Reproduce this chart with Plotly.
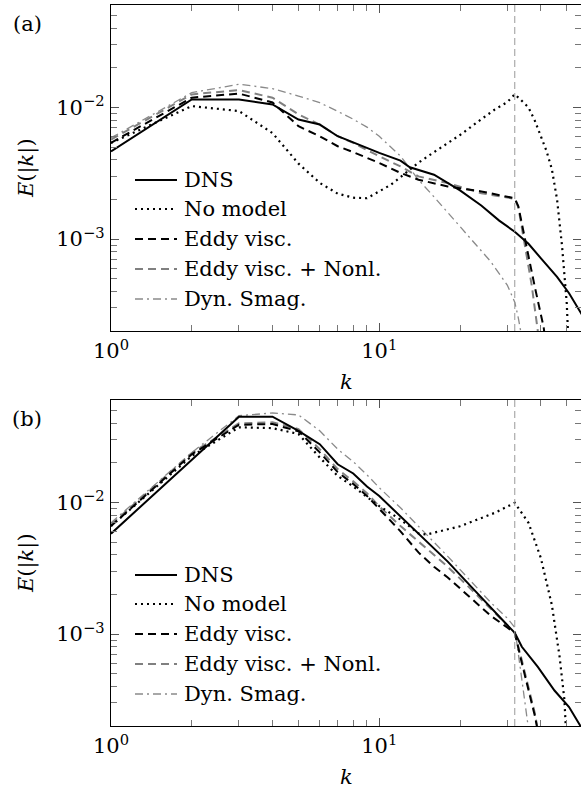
import math
import plotly.graph_objects as go

FONT = "DejaVu Serif"
FS = 21
GRAY = "#808080"

# ---------------- panel (a) ----------------
a_k_dns = [1, 2, 3, 4, 5, 6, 7, 8, 9, 10, 12, 13, 16, 20, 24, 28, 32, 36, 40, 46, 51, 56, 58]
a_E_dns = [4.63e-3, 1.15e-2, 1.15e-2, 1.054e-2, 8.09e-3, 7.41e-3, 6.04e-3, 5.41e-3, 4.95e-3, 4.51e-3,
           3.94e-3, 3.51e-3, 3.08e-3, 2.34e-3, 1.80e-3, 1.38e-3, 1.135e-3, 9.2e-4, 7.16e-4, 5.15e-4,
           3.87e-4, 2.87e-4, 2.5e-4]

a_k_nomodel = [1, 2, 3, 4, 5, 6, 7, 8, 9, 10, 11, 12, 13, 14, 16, 18, 20, 24, 27, 30, 32, 34, 36, 38,
               40, 42, 44, 46, 48, 50, 51]
a_E_nomodel = [5.37e-3, 1.023e-2, 9.38e-3, 6.38e-3, 3.74e-3, 2.67e-3, 2.21e-3, 2.06e-3, 2.04e-3, 2.29e-3,
               2.57e-3, 2.95e-3, 3.39e-3, 3.80e-3, 4.57e-3, 5.37e-3, 6.17e-3, 8.13e-3, 9.66e-3, 1.096e-2,
               1.259e-2, 1.122e-2, 1.0e-2, 7.94e-3, 6.03e-3, 4.68e-3, 3.39e-3, 2.0e-3, 8.9e-4, 3.24e-4,
               1.26e-4]

a_k_eddy = [1, 2, 3, 4, 5, 6, 7, 8, 10, 12, 14, 18, 24, 31, 32, 33, 35, 38, 41, 43]
a_E_eddy = [5.38e-3, 1.186e-2, 1.274e-2, 1.091e-2, 7.19e-3, 6.03e-3, 5.07e-3, 4.57e-3, 3.78e-3, 3.18e-3,
            2.82e-3, 2.51e-3, 2.30e-3, 2.05e-3, 2.04e-3, 1.77e-3, 9.8e-4, 4.33e-4, 2.14e-4, 1.0e-4]

a_k_nonl = [1, 2, 3, 4, 5, 6, 7, 8, 10, 12, 14, 18, 24, 31, 32, 33, 35, 37, 39, 40]
a_E_nonl = [5.70e-3, 1.256e-2, 1.355e-2, 1.186e-2, 8.85e-3, 7.41e-3, 6.04e-3, 5.37e-3, 4.25e-3, 3.56e-3,
            2.99e-3, 2.66e-3, 2.23e-3, 2.05e-3, 2.02e-3, 1.74e-3, 8.9e-4, 4.47e-4, 2.0e-4, 1.0e-4]

a_k_smag = [1, 2, 3, 4, 5, 6, 7, 8, 9, 10, 12, 14, 16, 18, 22, 26, 30, 32, 33, 34, 35]
a_E_smag = [5.87e-3, 1.294e-2, 1.50e-2, 1.39e-2, 1.22e-2, 1.086e-2, 9.33e-3, 8.13e-3, 7.08e-3, 6.03e-3,
            4.27e-3, 2.82e-3, 2.09e-3, 1.585e-3, 1.0e-3, 6.76e-4, 4.47e-4, 3.31e-4, 2.51e-4, 1.78e-4,
            1.0e-4]

# ---------------- panel (b) ----------------
b_k_dns = [1, 2, 3, 4, 5, 6, 7, 8, 9, 10, 12, 14, 15, 18, 22, 26, 30, 32, 34, 39, 45, 51, 56, 58]
b_E_dns = [5.79e-3, 2.10e-2, 4.48e-2, 4.48e-2, 3.50e-2, 2.77e-2, 1.95e-2, 1.66e-2, 1.32e-2, 1.117e-2,
           7.85e-3, 5.86e-3, 5.13e-3, 3.55e-3, 2.29e-3, 1.58e-3, 1.17e-3, 1.02e-3, 8.0e-4, 5.62e-4,
           3.72e-4, 2.79e-4, 2.0e-4, 1.8e-4]

b_k_nomodel = [1, 2, 3, 4, 5, 6, 7, 8, 9, 10, 12, 14, 15, 18, 20, 27, 32, 36, 40, 44, 47, 49, 50, 51]
b_E_nomodel = [6.61e-3, 2.25e-2, 3.72e-2, 3.67e-2, 3.31e-2, 2.19e-2, 1.59e-2, 1.32e-2, 1.10e-2, 9.38e-3,
               7.41e-3, 5.82e-3, 5.70e-3, 6.22e-3, 6.59e-3, 8.34e-3, 9.93e-3, 7.0e-3, 3.80e-3, 1.66e-3,
               6.76e-4, 3.16e-4, 1.78e-4, 6.3e-5]

b_k_eddy = [1, 2, 3, 4, 5, 6, 7, 8, 9, 10, 12, 14, 16, 18, 22, 26, 30, 32, 34, 36, 38, 40]
b_E_eddy = [6.61e-3, 2.32e-2, 3.89e-2, 3.94e-2, 3.47e-2, 2.40e-2, 1.70e-2, 1.38e-2, 1.12e-2, 8.91e-3,
            6.03e-3, 4.17e-3, 3.24e-3, 2.69e-3, 1.86e-3, 1.38e-3, 1.12e-3, 1.02e-3, 6.03e-4, 3.80e-4,
            2.40e-4, 1.41e-4]

b_k_nonl = [1, 2, 3, 4, 5, 6, 7, 8, 9, 10, 12, 14, 16, 18, 22, 26, 30, 32, 34, 36, 38, 40, 41]
b_E_nonl = [6.79e-3, 2.37e-2, 3.99e-2, 4.06e-2, 3.61e-2, 2.54e-2, 1.79e-2, 1.445e-2, 1.175e-2, 9.33e-3,
            6.61e-3, 5.01e-3, 3.98e-3, 3.24e-3, 2.19e-3, 1.55e-3, 1.15e-3, 1.02e-3, 6.31e-4, 3.98e-4,
            2.51e-4, 1.41e-4, 1.0e-4]

b_k_smag = [1, 2, 3, 4, 5, 6, 7, 8, 9, 10, 12, 14, 16, 18, 22, 26, 30, 32, 33, 35, 37]
b_E_smag = [7.0e-3, 2.39e-2, 4.56e-2, 4.78e-2, 4.62e-2, 3.50e-2, 2.54e-2, 2.04e-2, 1.62e-2, 1.294e-2,
            9.10e-3, 6.59e-3, 5.01e-3, 3.89e-3, 2.51e-3, 1.74e-3, 1.32e-3, 1.12e-3, 7.08e-4, 3.16e-4,
            1.26e-4]

k_cut = 32

labels = ["DNS", "No model", "Eddy visc.", "Eddy visc. + Nonl.", "Dyn. Smag."]
styles = [
    dict(color="#000000", width=2.0, dash="solid"),
    dict(color="#000000", width=2.2, dash="2px,4px"),
    dict(color="#000000", width=2.0, dash="8px,5px"),
    dict(color=GRAY, width=2.0, dash="8px,5px"),
    dict(color="#8a8a8a", width=1.3, dash="8px,4px,2px,4px"),
]

panel_a = [(a_k_dns, a_E_dns), (a_k_nomodel, a_E_nomodel), (a_k_eddy, a_E_eddy),
           (a_k_nonl, a_E_nonl), (a_k_smag, a_E_smag)]
panel_b = [(b_k_dns, b_E_dns), (b_k_nomodel, b_E_nomodel), (b_k_eddy, b_E_eddy),
           (b_k_nonl, b_E_nonl), (b_k_smag, b_E_smag)]

fig = go.Figure()
draw_order = [4, 3, 2, 1, 0]
for idx in draw_order:
    k, E = panel_a[idx]
    fig.add_trace(go.Scatter(x=k, y=E, mode="lines", line=styles[idx], name=labels[idx],
                             showlegend=False, xaxis="x", yaxis="y"))
for idx in draw_order:
    k, E = panel_b[idx]
    fig.add_trace(go.Scatter(x=k, y=E, mode="lines", line=styles[idx], name=labels[idx],
                             showlegend=False, xaxis="x2", yaxis="y2"))

W, H = 581, 793
ML, MR, MT, MB = 111, 0, 5, 67
PW, PH = W - ML - MR, H - MT - MB


def px_x(p):
    return (p - ML) / PW


def px_y(p):
    return (H - MB - p) / PH


top_dom = [px_y(331), 1.0]
bot_dom = [0.0, px_y(400)]

xmajor = [1, 10]
xminor = [2, 3, 4, 5, 6, 7, 8, 9, 20, 30, 40, 50]
ymajor = [1e-3, 1e-2]
yminor = [2e-4, 3e-4, 4e-4, 5e-4, 6e-4, 7e-4, 8e-4, 9e-4,
          2e-3, 3e-3, 4e-3, 5e-3, 6e-3, 7e-3, 8e-3, 9e-3,
          2e-2, 3e-2, 4e-2, 5e-2, 6e-2]

xr = [0, math.log10(56.5)]
yr = [math.log10(2e-4), math.log10(0.06)]

axis_common = dict(type="log", showgrid=False, zeroline=False, showline=True, linecolor="#000000",
                   linewidth=1.2, mirror="ticks", ticks="inside", ticklen=8, tickwidth=1,
                   tickcolor="#555555", automargin=False,
                   tickfont=dict(family=FONT, size=FS, color="#000000"))

xa = dict(axis_common, range=xr, tickvals=xmajor,
          ticktext=["10<sup>0</sup>", "10<sup>1</sup>"],
          minor=dict(tickvals=xminor, ticks="inside", ticklen=6, tickwidth=1, tickcolor="#777777"),
          ticklabelstandoff=1)
ya = dict(axis_common, range=yr, tickvals=ymajor,
          ticktext=["10<sup>\u22123</sup>", "10<sup>\u22122</sup>"],
          minor=dict(tickvals=yminor, ticks="inside", ticklen=6, tickwidth=1, tickcolor="#777777"),
          ticklabelstandoff=1)

shapes = []
annotations = []
for xref, yref in [("x", "y domain"), ("x2", "y2 domain")]:
    shapes.append(dict(type="line", xref=xref, yref=yref, x0=k_cut, x1=k_cut, y0=0, y1=1,
                       line=dict(color="#999999", width=1, dash="7px,4px")))

rows = [180, 209, 239, 269, 299]
for off in [0, 395]:
    for i, r in enumerate(rows):
        yy = px_y(r + off)
        shapes.append(dict(type="line", xref="paper", yref="paper", x0=px_x(135), x1=px_x(177),
                           y0=yy, y1=yy, line=styles[i]))
        annotations.append(dict(xref="paper", yref="paper", x=px_x(182), y=yy, text=labels[i],
                                showarrow=False, xanchor="left", yanchor="middle",
                                font=dict(family=FONT, size=FS, color="#000000")))

for off, tag in [(0, "(a)"), (395, "(b)")]:
    annotations.append(dict(xref="paper", yref="paper", x=px_x(27), y=px_y(24 + off), text=tag,
                            showarrow=False, xanchor="center", yanchor="middle",
                            font=dict(family=FONT, size=FS, color="#000000")))
    annotations.append(dict(xref="paper", yref="paper", x=px_x(26), y=px_y(168 + off),
                            text="<i>E</i>(|<i>k</i>|)", textangle=-90, showarrow=False,
                            xanchor="center", yanchor="middle",
                            font=dict(family=FONT, size=FS, color="#000000")))
    annotations.append(dict(xref="paper", yref="paper", x=px_x(346), y=px_y(382 + off),
                            text="<i>k</i>", showarrow=False, xanchor="center", yanchor="middle",
                            font=dict(family=FONT, size=FS, color="#000000")))

fig.update_layout(
    width=W, height=H,
    margin=dict(l=ML, r=MR, t=MT, b=MB, autoexpand=False),
    paper_bgcolor="#ffffff", plot_bgcolor="#ffffff",
    xaxis=dict(xa, domain=[0, 1], anchor="y"),
    yaxis=dict(ya, domain=top_dom, anchor="x"),
    xaxis2=dict(xa, domain=[0, 1], anchor="y2"),
    yaxis2=dict(ya, domain=bot_dom, anchor="x2"),
    shapes=shapes,
    annotations=annotations,
    showlegend=False,
)

fig.write_html("out.html", config={"displayModeBar": False, "staticPlot": True},
               post_script="document.body.style.margin='0px';document.body.style.padding='0px';")
